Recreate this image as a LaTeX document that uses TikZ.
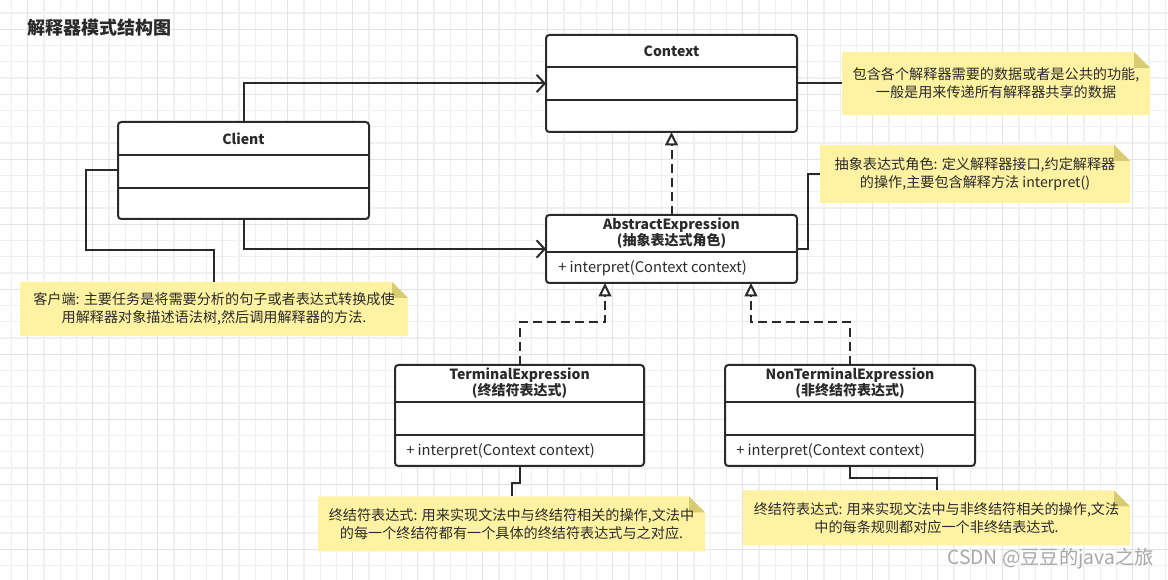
\documentclass[tikz,border=0pt]{standalone}
\usepackage{fontspec}
\setmainfont{Noto Sans CJK SC}
\usetikzlibrary{arrows.meta,calc,backgrounds}
\definecolor{ink}{HTML}{2A2A2A}
\definecolor{gridminor}{HTML}{F0F0F0}
\definecolor{gridmajor}{HTML}{E3E3E3}
\definecolor{notefill}{HTML}{FFF3A3}
\definecolor{foldfill}{HTML}{D9CB72}
\definecolor{wmark}{HTML}{A8A8A8}
\newcommand\notefold[1]{%
  \begin{scope}[on background layer]
    \fill[notefill] (#1.north west) -- ($(#1.north east)+(-16,0)$) -- ($(#1.north east)+(0,16)$) -- (#1.south east) -- (#1.south west) -- cycle;
    \fill[foldfill] ($(#1.north east)+(-16,0)$) -- ($(#1.north east)+(-16,16)$) -- ($(#1.north east)+(0,16)$) -- cycle;
  \end{scope}}
\begin{document}
\begin{tikzpicture}[x=0.75pt,y=-0.75pt,
  classbox/.style={draw=ink,line width=1.5pt,rounded corners=2.5pt,fill=white,inner sep=0pt,outer sep=0pt},
  sepline/.style={draw=ink,line width=1.5pt},
  hdr/.style={font=\bfseries\fontsize{10.5}{12}\selectfont,text=ink,align=center,inner sep=0pt},
  meth/.style={font=\fontsize{11}{12}\selectfont,text=ink,anchor=west,inner sep=0pt},
  notebox/.style={inner sep=0pt,outer sep=0pt,align=center,text=ink,font=\fontsize{10.6}{13.5}\selectfont},
  conn/.style={draw=ink,line width=1.5pt},
  assoc/.style={conn,-{Straight Barb[length=6pt,width=13pt]}},
  realize/.style={conn,dash pattern=on 7pt off 3.5pt,-{Triangle[length=10pt,width=9.5pt,fill=white]}}
]
\useasboundingbox (0,0) rectangle (1168,580);
\begin{scope}[on background layer]
  \fill[white] (0,0) rectangle (1168,580);
  \foreach \k in {0,...,71} {\draw[gridminor,line width=0.9pt] ({11.5+16.25*\k},0) -- ({11.5+16.25*\k},580);}
  \foreach \k in {0,...,35} {\draw[gridminor,line width=0.9pt] (0,{13+16.25*\k}) -- (1168,{13+16.25*\k});}
  \foreach \k in {0,...,17} {\draw[gridmajor,line width=0.9pt] ({27.75+65*\k},0) -- ({27.75+65*\k},580);}
  \foreach \k in {0,...,8} {\draw[gridmajor,line width=0.9pt] (0,{29.25+65*\k}) -- (1168,{29.25+65*\k});}
\end{scope}

% title
\node[anchor=west,inner sep=0pt,text=ink,font=\bfseries\fontsize{13.5}{15}\selectfont] (title) at (27,28) {解释器模式结构图};

% Context
\node[classbox,minimum width={251*0.75pt},minimum height={97*0.75pt}] (ctx) at (671.5,83.5) {};
\draw[sepline] ($(ctx.north west)+(0,32)$) -- ($(ctx.north east)+(0,32)$);
\draw[sepline] ($(ctx.north west)+(0,65)$) -- ($(ctx.north east)+(0,65)$);
\node[hdr] (ctxT) at ($(ctx.north)+(0,16.5)$) {Context};

% Client
\node[classbox,minimum width={251*0.75pt},minimum height={97*0.75pt}] (cli) at (243.5,170.5) {};
\draw[sepline] ($(cli.north west)+(0,33)$) -- ($(cli.north east)+(0,33)$);
\draw[sepline] ($(cli.north west)+(0,66)$) -- ($(cli.north east)+(0,66)$);
\node[hdr] (cliT) at ($(cli.north)+(0,17)$) {Client};

% AbstractExpression
\node[classbox,minimum width={251*0.75pt},minimum height={68*0.75pt}] (abs) at (671.5,249) {};
\draw[sepline] ($(abs.north west)+(0,37)$) -- ($(abs.north east)+(0,37)$);
\node[hdr] (absT) at ($(abs.north)+(0,18.5)$) {AbstractExpression\\(抽象表达式角色)};
\node[meth] (absM) at ($(abs.north west)+(12,53)$) {+ interpret(Context context)};

% TerminalExpression
\node[classbox,minimum width={249*0.75pt},minimum height={101*0.75pt}] (term) at (519.5,415.5) {};
\draw[sepline] ($(term.north west)+(0,37)$) -- ($(term.north east)+(0,37)$);
\draw[sepline] ($(term.north west)+(0,70)$) -- ($(term.north east)+(0,70)$);
\node[hdr] (termT) at ($(term.north)+(0,18.5)$) {TerminalExpression\\(终结符表达式)};
\node[meth] (termM) at ($(term.north west)+(11,86)$) {+ interpret(Context context)};

% NonTerminalExpression
\node[classbox,minimum width={250*0.75pt},minimum height={101*0.75pt}] (nterm) at (850,415.5) {};
\draw[sepline] ($(nterm.north west)+(0,37)$) -- ($(nterm.north east)+(0,37)$);
\draw[sepline] ($(nterm.north west)+(0,70)$) -- ($(nterm.north east)+(0,70)$);
\node[hdr] (ntermT) at ($(nterm.north)+(0,18.5)$) {NonTerminalExpression\\(非终结符表达式)};
\node[meth] (ntermM) at ($(nterm.north west)+(11,86)$) {+ interpret(Context context)};

% notes
\node[notebox,minimum width={308*0.75pt},minimum height={63*0.75pt}] (n1) at (996,83.5) {包含各个解释器需要的数据或者是公共的功能,\\一般是用来传递所有解释器共享的数据};
\notefold{n1}
\node[notebox,minimum width={310*0.75pt},minimum height={58*0.75pt}] (n2) at (975,174) {抽象表达式角色: 定义解释器接口,约定解释器\\的操作,主要包含解释方法 interpret()};
\notefold{n2}
\node[notebox,minimum width={388*0.75pt},minimum height={54*0.75pt}] (n3) at (214,309) {客户端: 主要任务是将需要分析的句子或者表达式转换成使\\用解释器对象描述语法树,然后调用解释器的方法.};
\notefold{n3}
\node[notebox,minimum width={387*0.75pt},minimum height={55*0.75pt}] (n4) at (511.5,524) {终结符表达式: 用来实现文法中与终结符相关的操作,文法中\\的每一个终结符都有一个具体的终结符表达式与之对应.};
\notefold{n4}
\node[notebox,minimum width={387*0.75pt},minimum height={55*0.75pt}] (n5) at (936.5,518) {终结符表达式: 用来实现文法中与非终结符相关的操作,文法\\中的每条规则都对应一个非终结表达式.};
\notefold{n5}

% connectors
\coordinate (y250) at (0,250);
\draw[assoc] (cli.north) |- (ctx.west);
\draw[assoc] (cli.south) |- (abs.west);
\draw[conn] (cli.west) -- ++(-32,0) |- (n3.north |- y250) -- (n3.north);
\draw[conn] (ctx.east) -- (n1.west);
\draw[conn] (abs.east) -- ++(11,0) |- (n2.west);
\draw[realize] (abs.north) -- (ctx.south);
\draw[realize] (term.north) -- ++(0,-43) -| ($(abs.south)+(-66.5,0)$);
\draw[realize] (nterm.north) -- ++(0,-43) -| ($(abs.south)+(79.5,0)$);
\draw[conn] (term.south) -- ++(0,17) -| (n4.north);
\draw[conn] (nterm.south) -- ++(0,12) -| (n5.north);

% watermark
\node[inner sep=0pt,anchor=west,text=wmark,font=\fontsize{14.5}{16}\selectfont] (wm) at (947,559) {CSDN @豆豆的java之旅};
\end{tikzpicture}
\end{document}
